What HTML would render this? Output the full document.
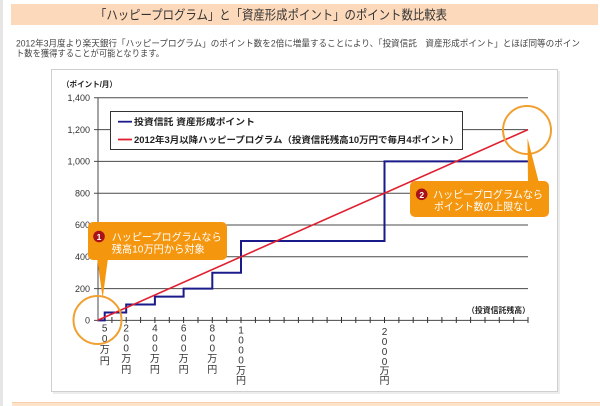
<!DOCTYPE html>
<html><head><meta charset="utf-8">
<style>
html,body{margin:0;padding:0;background:#fff;}
svg{display:block;}
text{font-family:"Liberation Sans","Noto Sans CJK JP",sans-serif;}
.jp{font-family:"Liberation Sans","Noto Sans CJK JP",sans-serif;}
</style></head>
<body>
<svg width="600" height="406" viewBox="0 0 600 406" xmlns="http://www.w3.org/2000/svg">
<rect x="0" y="0" width="600" height="406" fill="#fff"/>
<rect x="0" y="0" width="3" height="406" fill="#e6e6e6"/>
<!-- title bar -->
<rect x="11" y="4" width="587" height="21" fill="#fcd9bb"/>
<text x="95" y="19.5" font-size="13" fill="#333" textLength="352" lengthAdjust="spacingAndGlyphs">「ハッピープログラム」と「資産形成ポイント」のポイント数比較表</text>
<!-- paragraph -->
<text x="16" y="46.5" font-size="9" fill="#444" textLength="564" lengthAdjust="spacingAndGlyphs">2012年3月度より楽天銀行「ハッピープログラム」のポイント数を2倍に増量することにより、「投資信託　資産形成ポイント」とほぼ同等のポイン</text>
<text x="16" y="56.5" font-size="9" fill="#444" textLength="148" lengthAdjust="spacingAndGlyphs">ト数を獲得することが可能となります。</text>
<!-- chart box -->
<rect x="53" y="71" width="507" height="323" fill="#ececec"/>
<rect x="51.5" y="69.5" width="506" height="322" fill="#fff" stroke="#cfcfcf" stroke-width="1"/>
<!-- bottom band -->
<rect x="12" y="402" width="588" height="4" fill="#fde3cc"/>
<line x1="12" y1="402.5" x2="600" y2="402.5" stroke="#f8cfa8" stroke-width="1"/>

<text x="62" y="87" font-size="8" font-weight="bold" fill="#222" textLength="55" lengthAdjust="spacingAndGlyphs">（ポイント/月）</text>

<!-- gridlines -->
<g stroke="#4a4a4a" stroke-width="1">
<line x1="94" y1="97.8" x2="528" y2="97.8"/>
<line x1="94" y1="129.6" x2="528" y2="129.6"/>
<line x1="94" y1="161.4" x2="528" y2="161.4"/>
<line x1="94" y1="193.2" x2="528" y2="193.2"/>
<line x1="94" y1="225" x2="528" y2="225"/>
<line x1="94" y1="256.8" x2="528" y2="256.8"/>
<line x1="94" y1="288.6" x2="528" y2="288.6"/>
<line x1="94" y1="320.4" x2="528" y2="320.4"/>
<line x1="98" y1="97.8" x2="98" y2="320.4"/>
</g>
<!-- x ticks -->
<g stroke="#333" stroke-width="1">
<line x1="111.9" y1="317" x2="111.9" y2="323"/>
<line x1="126.2" y1="317" x2="126.2" y2="323"/>
<line x1="140.6" y1="317" x2="140.6" y2="323"/>
<line x1="154.9" y1="317" x2="154.9" y2="323"/>
<line x1="169.3" y1="317" x2="169.3" y2="323"/>
<line x1="183.6" y1="317" x2="183.6" y2="323"/>
<line x1="198" y1="317" x2="198" y2="323"/>
<line x1="212.3" y1="317" x2="212.3" y2="323"/>
<line x1="226.7" y1="317" x2="226.7" y2="323"/>
<line x1="241" y1="317" x2="241" y2="323"/>
<line x1="255.4" y1="317" x2="255.4" y2="323"/>
<line x1="269.7" y1="317" x2="269.7" y2="323"/>
<line x1="284.1" y1="317" x2="284.1" y2="323"/>
<line x1="298.4" y1="317" x2="298.4" y2="323"/>
<line x1="312.8" y1="317" x2="312.8" y2="323"/>
<line x1="327.1" y1="317" x2="327.1" y2="323"/>
<line x1="341.5" y1="317" x2="341.5" y2="323"/>
<line x1="355.8" y1="317" x2="355.8" y2="323"/>
<line x1="370.2" y1="317" x2="370.2" y2="323"/>
<line x1="384.5" y1="317" x2="384.5" y2="323"/>
<line x1="398.9" y1="317" x2="398.9" y2="323"/>
<line x1="413.2" y1="317" x2="413.2" y2="323"/>
<line x1="427.6" y1="317" x2="427.6" y2="323"/>
<line x1="441.9" y1="317" x2="441.9" y2="323"/>
<line x1="456.3" y1="317" x2="456.3" y2="323"/>
<line x1="470.6" y1="317" x2="470.6" y2="323"/>
<line x1="485" y1="317" x2="485" y2="323"/>
<line x1="499.3" y1="317" x2="499.3" y2="323"/>
<line x1="513.7" y1="317" x2="513.7" y2="323"/>
<line x1="528" y1="317" x2="528" y2="323"/>
</g>
<!-- y labels -->
<g font-size="9" fill="#333" text-anchor="end">
<text x="90" y="101">1,400</text>
<text x="90" y="132.8">1,200</text>
<text x="90" y="164.6">1,000</text>
<text x="90" y="196.4">800</text>
<text x="90" y="228.2">600</text>
<text x="90" y="260">400</text>
<text x="90" y="291.8">200</text>
<text x="90" y="323.6">0</text>
</g>
<text x="467" y="313" font-size="8" font-weight="bold" fill="#222" textLength="63" lengthAdjust="spacingAndGlyphs">（投資信託残高）</text>

<!-- x labels (vertical) -->
<g font-size="10" fill="#333" text-anchor="middle">
<text x="104.7" y="331.5">5</text><text x="104.7" y="342">0</text><text x="104.7" y="353">万</text><text x="104.7" y="364.5">円</text>
<text x="126.2" y="331.5">2</text><text x="126.2" y="341.5">0</text><text x="126.2" y="351.5">0</text><text x="126.2" y="362">万</text><text x="126.2" y="373">円</text>
<text x="154.9" y="331.5">4</text><text x="154.9" y="341.5">0</text><text x="154.9" y="351.5">0</text><text x="154.9" y="362">万</text><text x="154.9" y="373">円</text>
<text x="183.6" y="331.5">6</text><text x="183.6" y="341.5">0</text><text x="183.6" y="351.5">0</text><text x="183.6" y="362">万</text><text x="183.6" y="373">円</text>
<text x="212.3" y="331.5">8</text><text x="212.3" y="341.5">0</text><text x="212.3" y="351.5">0</text><text x="212.3" y="362">万</text><text x="212.3" y="373">円</text>
<text x="241" y="333.5">1</text><text x="241" y="343.5">0</text><text x="241" y="353.5">0</text><text x="241" y="363.5">0</text><text x="241" y="374">万</text><text x="241" y="384">円</text>
<text x="384.5" y="335">2</text><text x="384.5" y="345">0</text><text x="384.5" y="355">0</text><text x="384.5" y="365">0</text><text x="384.5" y="374.5">万</text><text x="384.5" y="384">円</text>
</g>

<!-- legend -->
<rect x="110.5" y="111.5" width="352" height="38" fill="#fff" stroke="#333" stroke-width="1"/>
<line x1="118" y1="121.7" x2="132" y2="121.7" stroke="#1a1a8a" stroke-width="1.8"/>
<text x="134" y="125" font-size="9" font-weight="bold" fill="#222" textLength="121" lengthAdjust="spacingAndGlyphs">投資信託  資産形成ポイント</text>
<line x1="118" y1="139.5" x2="132" y2="139.5" stroke="#e02030" stroke-width="1.8"/>
<text x="134" y="143" font-size="9" font-weight="bold" fill="#222" textLength="325" lengthAdjust="spacingAndGlyphs">2012年3月以降ハッピープログラム（投資信託残高10万円で毎月4ポイント）</text>

<!-- blue step -->
<path d="M97.5,320.4 H104.7 V312.5 H126.2 V304.5 H154.9 V296.6 H183.6 V288.6 H212.3 V272.7 H241 V241 H384.5 V161.4 H528" fill="none" stroke="#1a1a8a" stroke-width="2"/>
<!-- red line -->
<line x1="97.5" y1="320.4" x2="528" y2="129.6" stroke="#e02030" stroke-width="1.6"/>

<!-- circles -->
<circle cx="97.5" cy="320" r="24" fill="none" stroke="#f0a030" stroke-width="2"/>
<circle cx="527" cy="130" r="24" fill="none" stroke="#f0a030" stroke-width="2"/>

<!-- callout 1 -->
<polygon points="97,258 108,258 102.7,298" fill="#f5960f"/>
<rect x="88" y="222" width="139" height="38" rx="5" fill="#f5960f"/>
<circle cx="99" cy="236.5" r="5.8" fill="#a8121a"/>
<text x="99" y="240" font-size="8.5" font-weight="bold" fill="#fff" text-anchor="middle">1</text>
<text x="111.7" y="240.5" font-size="10.5" fill="#fff" textLength="110" lengthAdjust="spacingAndGlyphs">ハッピープログラムなら</text>
<text x="111.7" y="252.5" font-size="10.5" fill="#fff" textLength="93" lengthAdjust="spacingAndGlyphs">残高10万円から対象</text>

<!-- callout 2 -->
<polygon points="527.5,138 528,183 539,183" fill="#f5960f"/>
<rect x="410" y="181" width="139" height="36" rx="5" fill="#f5960f"/>
<circle cx="421.7" cy="194.3" r="5.8" fill="#a8121a"/>
<text x="421.7" y="197.8" font-size="8.5" font-weight="bold" fill="#fff" text-anchor="middle">2</text>
<text x="433" y="198" font-size="10.5" fill="#fff" textLength="110" lengthAdjust="spacingAndGlyphs">ハッピープログラムなら</text>
<text x="434" y="210" font-size="10.5" fill="#fff" textLength="99" lengthAdjust="spacingAndGlyphs">ポイント数の上限なし</text>
</svg>
</body></html>
